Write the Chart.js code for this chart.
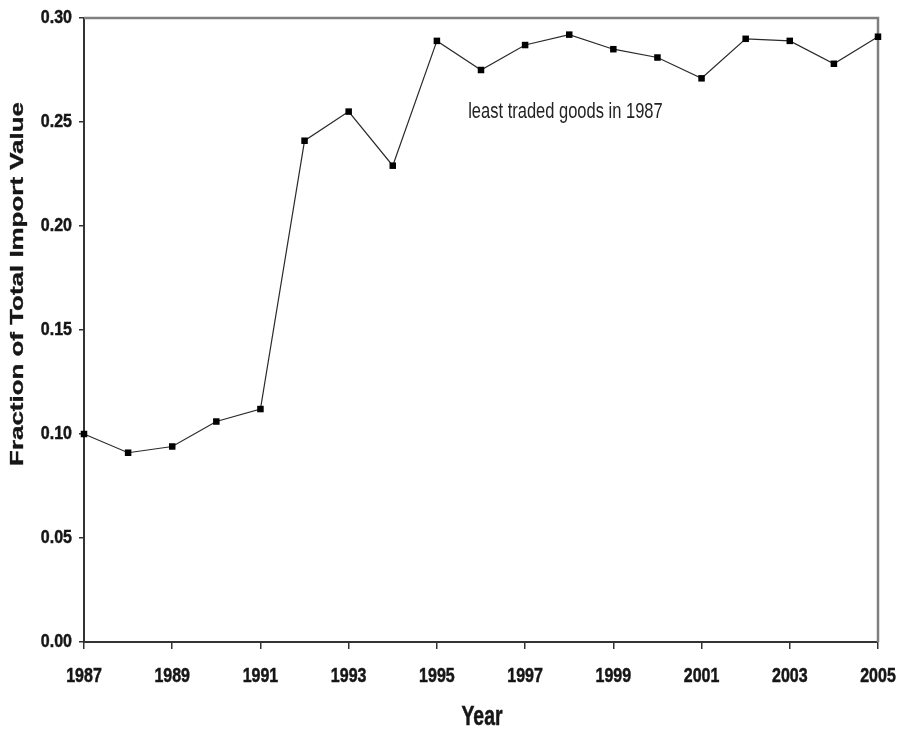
<!DOCTYPE html>
<html>
<head>
<meta charset="utf-8">
<script src="https://cdn.jsdelivr.net/npm/chart.js@4/dist/chart.umd.min.js"></script>
<style>
  html, body { margin: 0; padding: 0; background: #fff; }
  #wrap { width: 900px; height: 734px; }
</style>
</head>
<body>
<div id="wrap"><canvas id="c" width="900" height="734"></canvas></div>
<script>
// Years on the horizontal axis
const years = [1987, 1988, 1989, 1990, 1991, 1992, 1993, 1994, 1995, 1996,
               1997, 1998, 1999, 2000, 2001, 2002, 2003, 2004, 2005];
// Share of total import value held by the goods least traded in 1987
const importShare = [0.100, 0.091, 0.094, 0.106, 0.112, 0.241, 0.255, 0.229, 0.289, 0.275,
                     0.287, 0.292, 0.285, 0.281, 0.271, 0.290, 0.289, 0.278, 0.291];
// Tick labels
const xTickYears = [1987, 1989, 1991, 1993, 1995, 1997, 1999, 2001, 2003, 2005];
const yTickValues = [0.00, 0.05, 0.10, 0.15, 0.20, 0.25, 0.30];
// Texts
const yTitle = 'Fraction of Total Import Value';
const xTitle = 'Year';
const noteText = 'least traded goods in 1987';

const NARROW = '"Liberation Sans Narrow", "Arial Narrow", "Liberation Sans", Arial, sans-serif';
const WIDE = '"Liberation Sans", Arial, sans-serif';
const INK = '#161616';

// Draws text with separate horizontal / vertical scaling (tall face)
function drawText(ctx, text, x, y, font, sx, sy, align, baseline, rotation, heavy) {
  ctx.save();
  ctx.translate(x, y);
  if (rotation) ctx.rotate(rotation);
  ctx.scale(sx, sy);
  ctx.font = font;
  ctx.textAlign = align;
  ctx.textBaseline = baseline;
  ctx.fillText(text, 0, 0);
  if (heavy) {
    ctx.strokeStyle = ctx.fillStyle;
    ctx.lineWidth = heavy;
    ctx.strokeText(text, 0, 0);
  }
  ctx.restore();
}

// Top and right frame lines, lighter than the two axes
const framePlugin = {
  id: 'frame',
  beforeDatasetsDraw(chart) {
    const { ctx, chartArea: a } = chart;
    ctx.save();
    ctx.strokeStyle = '#7f7f7f';
    ctx.lineWidth = 2.5;
    ctx.beginPath();
    ctx.moveTo(a.left, a.top);
    ctx.lineTo(a.right, a.top);
    ctx.lineTo(a.right, a.bottom);
    ctx.stroke();
    ctx.restore();
  }
};

// Tick labels, axis titles and the in-plot note
const textPlugin = {
  id: 'texts',
  afterDraw(chart) {
    const { ctx, chartArea: a } = chart;
    const xs = chart.scales.x, ys = chart.scales.y;
    ctx.save();
    ctx.fillStyle = INK;
    const tickFont = 'bold 16px ' + WIDE;
    ys.ticks.forEach(t => {
      drawText(ctx, Number(t.value).toFixed(2), a.left - 12, ys.getPixelForValue(t.value),
               tickFont, 1.0, 1.15, 'right', 'middle', 0, 0.4);
    });
    xs.ticks.forEach(t => {
      drawText(ctx, String(t.value), xs.getPixelForValue(t.value), a.bottom + 34,
               tickFont, 1.0, 1.3, 'center', 'middle', 0, 0.4);
    });
    drawText(ctx, xTitle, 482, a.bottom + 75,
             'bold 20px ' + WIDE, 0.97, 1.4, 'center', 'middle', 0, 0.4);
    drawText(ctx, yTitle, 18, 284, 'bold 18px ' + WIDE, 1.44, 1, 'center', 'middle', -Math.PI / 2, 0.3);
    ctx.fillStyle = '#222';
    drawText(ctx, noteText, xs.getPixelForValue(1995.71), 118,
             '16.5px ' + NARROW, 1, 1.35, 'left', 'alphabetic');
    ctx.restore();
  }
};

new Chart(document.getElementById('c'), {
  type: 'line',
  data: {
    datasets: [{
      data: years.map((y, i) => ({ x: y, y: importShare[i] })),
      borderColor: '#2a2a2a',
      borderWidth: 1.2,
      pointStyle: 'rect',
      pointRadius: 4.6,
      pointBackgroundColor: '#000',
      pointBorderWidth: 0,
      tension: 0,
      clip: false
    }]
  },
  options: {
    responsive: false,
    animation: false,
    devicePixelRatio: 1,
    layout: { padding: { top: 18, right: 22, left: 0, bottom: 0 } },
    plugins: { legend: { display: false }, tooltip: { enabled: false } },
    scales: {
      x: {
        type: 'linear',
        min: 1987,
        max: 2005,
        afterBuildTicks: s => { s.ticks = xTickYears.map(v => ({ value: v })); },
        afterFit: s => { s.height = 92; s.paddingLeft = 0; s.paddingRight = 0; },
        ticks: { display: false },
        grid: { drawOnChartArea: false, drawTicks: true, tickLength: 7, color: '#333', lineWidth: 1.5 },
        border: { display: true, color: '#333', width: 2 }
      },
      y: {
        min: 0,
        max: 0.30,
        afterBuildTicks: s => { s.ticks = yTickValues.map(v => ({ value: v })); },
        afterFit: s => { s.width = 84; s.paddingTop = 0; s.paddingBottom = 0; },
        ticks: { display: false },
        grid: { drawOnChartArea: false, drawTicks: true, tickLength: 5, color: '#333', lineWidth: 1.5 },
        border: { display: true, color: '#333', width: 2 }
      }
    }
  },
  plugins: [framePlugin, textPlugin]
});
</script>
</body>
</html>
